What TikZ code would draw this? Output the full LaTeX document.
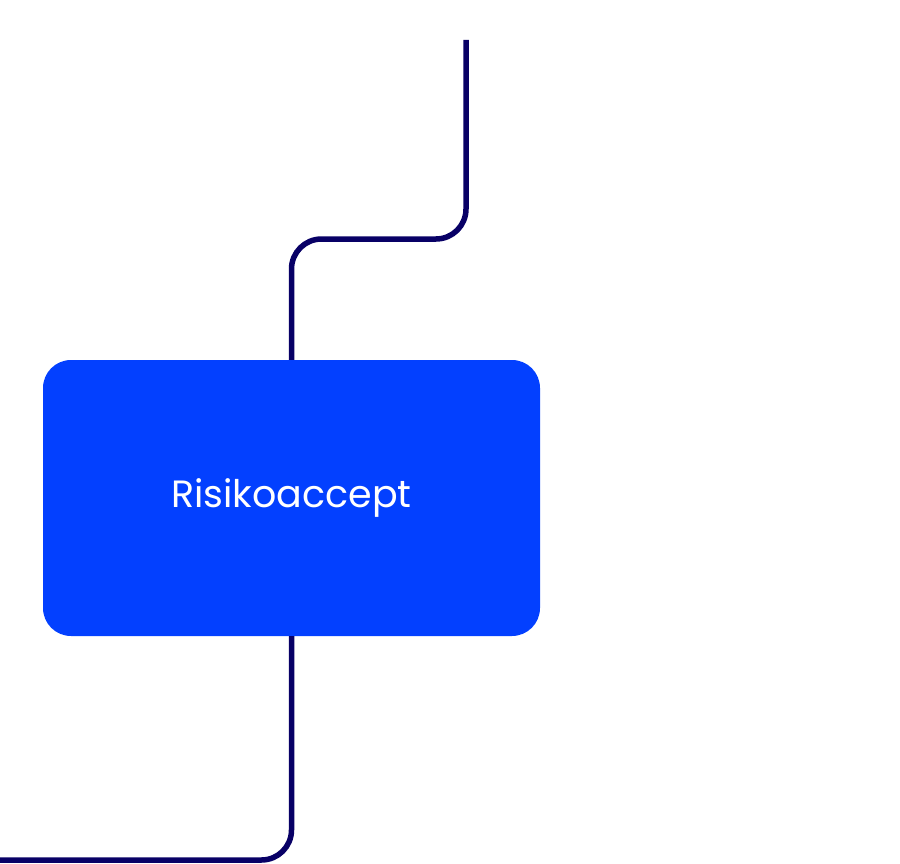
\documentclass[tikz,border=0pt]{standalone}
\usepackage{fontspec}
\setmainfont{Poppins}
\usetikzlibrary{calc}

\definecolor{boxblue}{RGB}{3,64,255}
\definecolor{linknavy}{RGB}{8,0,102}

\tikzset{
	stepbox/.style={fill=boxblue, rounded corners=28pt, minimum width=497pt,
		minimum height=276pt, inner sep=0pt, text=white, font=\fontsize{38}{46}\selectfont},
	link/.style={draw=linknavy, line width=5.5pt, rounded corners=30pt}
}

\begin{document}
\begin{tikzpicture}[x=1pt,y=-1pt]
	\useasboundingbox (0,0) rectangle (900,864);

	\coordinate (top)  at (466,40);
	\coordinate (bend) at (466,239);
	\coordinate (exit) at (0,860);

	% Box
	\node[stepbox] (risk) at (291.5,498) {Risikoaccept};

	% Incoming line
	\draw[link] (top) |- (risk.north |- bend) -- (risk.north);

	% Outgoing line
	\draw[link] (risk.south) |- (exit);
\end{tikzpicture}
\end{document}
